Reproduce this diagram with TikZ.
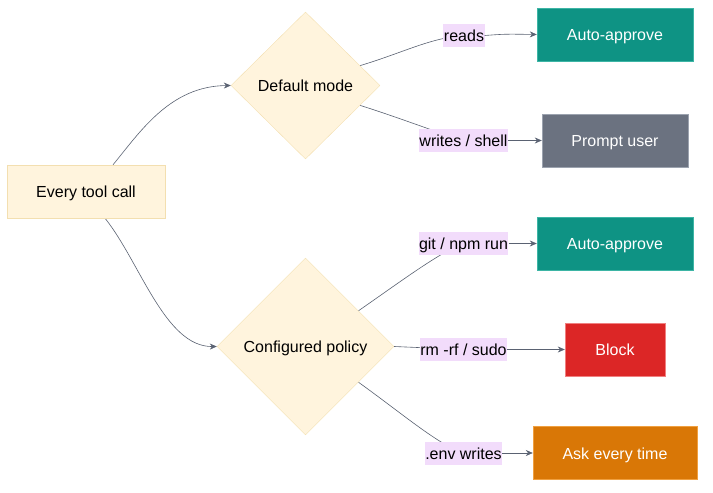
\documentclass[tikz,border=0pt]{standalone}
\usepackage{fontspec}
\setmainfont{Liberation Sans}
\usetikzlibrary{shapes.geometric,arrows.meta,calc}
\definecolor{cream}{HTML}{FFF4DD}
\definecolor{creamline}{HTML}{F3DFB0}
\definecolor{teal}{HTML}{0E9384}
\definecolor{tealline}{HTML}{3DB5A5}
\definecolor{slate}{HTML}{6B7280}
\definecolor{slateline}{HTML}{9CA3AF}
\definecolor{blockred}{HTML}{DC2626}
\definecolor{redline}{HTML}{F08080}
\definecolor{amber}{HTML}{D97706}
\definecolor{amberline}{HTML}{F0A040}
\definecolor{lblbg}{HTML}{F2DCFB}
\definecolor{edge}{HTML}{5A6272}
\pgfdeclarelayer{bg}
\pgfsetlayers{bg,main}
\tikzset{
  txt/.style={font=\fontsize{16}{19}\selectfont, text height=16pt, text depth=3.4pt},
  startbox/.style={txt, draw=creamline, fill=cream, minimum width=158pt, minimum height=53pt, inner sep=0pt},
  decision/.style={txt, diamond, draw=creamline, fill=cream, inner sep=0pt},
  outbox/.style={txt, text=white, minimum height=53pt, inner sep=0pt},
  edgelbl/.style={txt, fill=lblbg, minimum height=23pt, inner xsep=0.5pt, inner ysep=0pt},
  conn/.style={draw=edge, line width=0.6pt},
  arr/.style={conn, -{Stealth[length=7pt,width=6pt]}},
}
\begin{document}
\begin{tikzpicture}[x=1pt,y=-1pt]
\useasboundingbox (0,0) rectangle (713,493);
\node[startbox] (etc) at (86,191.5) {Every tool call};
\node[decision, minimum width=149pt, minimum height=147pt] (dm) at (305.5,85.5) {Default mode};
\node[decision, minimum width=177pt, minimum height=177pt] (cp) at (305.5,346.5) {Configured policy};
\node[outbox, fill=teal, draw=tealline, minimum width=156pt] (aa1) at (615,34.5) {Auto-approve};
\node[outbox, fill=slate, draw=slateline, minimum width=146pt] (pu) at (615,140.5) {Prompt user};
\node[outbox, fill=teal, draw=tealline, minimum width=156pt] (aa2) at (615,243.5) {Auto-approve};
\node[outbox, fill=blockred, draw=redline, minimum width=100pt] (blk) at (615,349.5) {Block};
\node[outbox, fill=amber, draw=amberline, minimum width=164pt] (ask) at (615,453) {Ask every time};
\node[edgelbl] (l1) at (464,35.5) {reads};
\node[edgelbl] (l2) at (463.5,140.5) {writes / shell};
\node[edgelbl] (l3) at (463.5,243.5) {git / npm run};
\node[edgelbl] (l4) at (463.5,349.5) {rm -rf / sudo};
\node[edgelbl] (l5) at (463.5,453) {.env writes};
\begin{pgfonlayer}{bg}
\draw[arr] ([xshift=27pt]etc.north) .. controls (140,132) and (170,86) .. (dm.west);
\draw[arr] ([xshift=19pt]etc.south) .. controls (140,262) and (165,347) .. (cp.west);
\draw[conn] (dm.20) .. controls (405,52) and (430,38) .. (l1.center);
\draw[conn] (dm.-20) .. controls (400,118) and (430,130) .. (l2.center);
\draw[conn] (cp.34) .. controls (400,282) and (440,252) .. (l3.center);
\draw[conn] (cp.east) -- (l4.center);
\draw[conn] (cp.-34) .. controls (400,412) and (440,446) .. (l5.center);
\end{pgfonlayer}
\draw[arr] (l1.east) .. controls (505,34) .. (aa1.west);
\draw[arr] (l2.east) -- (pu.west);
\draw[arr] (l3.east) -- (aa2.west);
\draw[arr] (l4.east) -- (blk.west);
\draw[arr] (l5.east) -- (ask.west);
\end{tikzpicture}
\end{document}
